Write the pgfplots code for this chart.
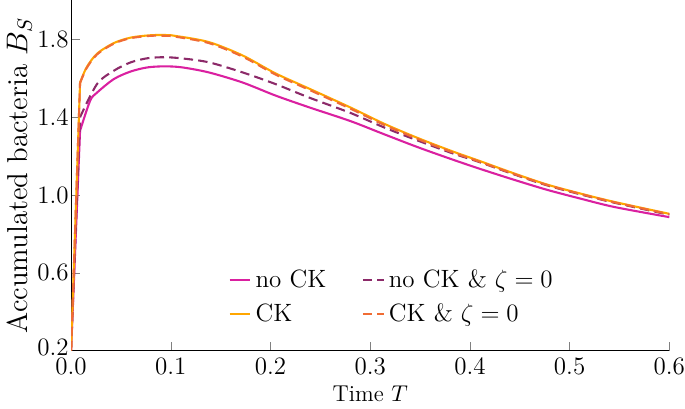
\documentclass[border=0pt]{standalone}
\usepackage{pgfplots}
\pgfplotsset{compat=1.18}

\definecolor{cmag}{RGB}{218,32,160}
\definecolor{corange}{RGB}{255,166,0}
\definecolor{cpurple}{RGB}{140,42,105}
\definecolor{cred}{RGB}{240,108,52}

% curves after the initial jump (the jump itself is drawn separately)
\pgfplotstableread{
T B
0.009 1.330
0.019 1.483
0.026 1.526
0.043 1.596
0.060 1.635
0.077 1.656
0.094 1.661
0.111 1.656
0.138 1.630
0.172 1.578
0.205 1.511
0.239 1.450
0.280 1.380
0.314 1.312
0.348 1.245
0.382 1.183
0.409 1.136
0.443 1.080
0.477 1.027
0.511 0.981
0.545 0.938
0.600 0.886
}\noCK

\pgfplotstableread{
T B
0.009 1.400
0.026 1.570
0.043 1.639
0.060 1.682
0.077 1.703
0.094 1.708
0.111 1.702
0.138 1.682
0.172 1.630
0.205 1.570
0.239 1.500
0.280 1.422
0.314 1.347
0.348 1.279
0.382 1.215
0.409 1.170
0.443 1.108
0.477 1.050
0.511 1.003
0.545 0.960
0.600 0.898
}\noCKzeta

\pgfplotstableread{
T B
0.009  1.578
0.0156 1.656
0.026  1.726
0.043  1.781
0.060  1.809
0.080  1.821
0.095  1.822
0.104  1.818
0.138  1.786
0.172  1.717
0.205  1.625
0.239  1.546
0.280  1.450
0.314  1.366
0.348  1.292
0.382  1.225
0.409  1.176
0.443  1.113
0.477  1.054
0.511  1.007
0.545  0.964
0.600  0.903
}\CK

\pgfplotstableread{
T B
0.009  1.575
0.0156 1.652
0.026  1.722
0.043  1.778
0.060  1.806
0.080  1.818
0.095  1.818
0.104  1.814
0.138  1.781
0.172  1.711
0.205  1.619
0.239  1.540
0.280  1.444
0.314  1.360
0.348  1.287
0.382  1.220
0.409  1.172
0.443  1.110
0.477  1.052
0.511  1.005
0.545  0.962
0.600  0.901
}\CKzeta

\begin{document}
\begin{tikzpicture}
\begin{axis}[
  scale only axis,
  width=287pt, height=168pt,
  xmin=0, xmax=0.6, ymin=0.2, ymax=2.0,
  axis lines=left,
  axis line style={-, black},
  tick align=inside,
  tick label style={font=\large},
  xtick={0,0.1,0.2,0.3,0.4,0.5,0.6},
  xticklabels={0.0,0.1,0.2,0.3,0.4,0.5,0.6},
  ytick={0.2,0.6,1.0,1.4,1.8},
  yticklabels={\raisebox{3.5pt}{0.2},0.6,1.0,1.4,1.8},
  xticklabel style={inner xsep=0pt},
  yticklabel style={inner xsep=1pt},
  xlabel={Time $T$},
  ylabel={Accumulated bacteria $B_S$},
  ylabel style={font=\fontsize{13.8}{16}\selectfont, yshift=-2pt},
  xlabel style={font=\fontsize{11}{13}\selectfont, yshift=2pt},
  every axis plot/.append style={line width=1pt},
  legend columns=2,
  legend cell align=left,
  legend style={draw=none, fill=none, font=\large, at={(0.252,0.05)}, anchor=south west,
    row sep=2pt,
    /tikz/every even column/.append style={column sep=15pt}},
  legend image code/.code={\draw[#1] (0pt,0pt) -- (10pt,0pt);},
]
\addplot[cmag, forget plot] coordinates {(0,0.2) (0.009,1.330)};
\addplot[cmag, smooth, tension=0.5] table[x=T,y=B] {\noCK};
\addlegendentry{no CK}
\addplot[cpurple, dash pattern=on 4.5pt off 2.5pt, forget plot] coordinates {(0,0.2) (0.009,1.400)};
\addplot[cpurple, dash pattern=on 4.5pt off 2.5pt, smooth, tension=0.5] table[x=T,y=B] {\noCKzeta};
\addlegendentry{no CK \& $\zeta=0$}
\addplot[corange, forget plot] coordinates {(0,0.2) (0.009,1.578)};
\addplot[corange, smooth, tension=0.5] table[x=T,y=B] {\CK};
\addlegendentry{CK}
\addplot[cred, dash pattern=on 4.5pt off 2.5pt, forget plot] coordinates {(0,0.2) (0.009,1.575)};
\addplot[cred, dash pattern=on 4.5pt off 2.5pt, smooth, tension=0.5] table[x=T,y=B] {\CKzeta};
\addlegendentry{CK \& $\zeta=0$}
\end{axis}
\end{tikzpicture}
\end{document}
